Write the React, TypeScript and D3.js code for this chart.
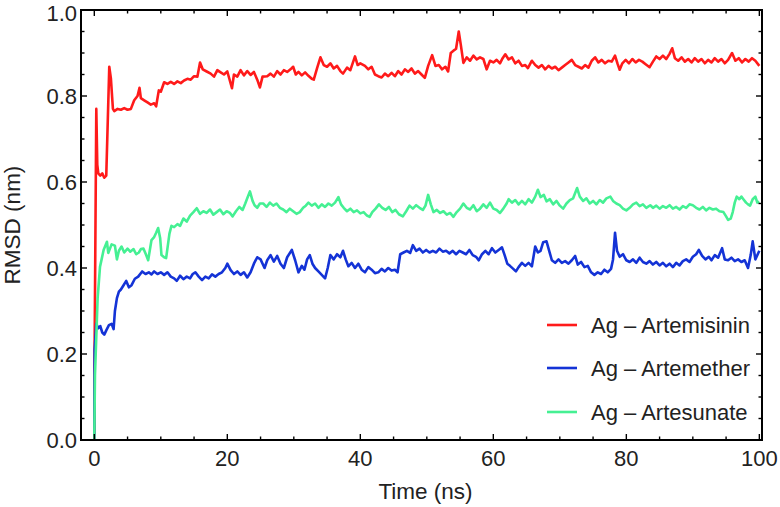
import React from "react";
import * as d3 from "d3";

const seriesNames = ["Ag \u2013 Artemisinin", "Ag \u2013 Artemether", "Ag \u2013 Artesunate"];
const seriesColors = ["#ff1a1a", "#1433d6", "#45f093"];

const xTicks = [0, 20, 40, 60, 80, 100];
const yTicks = [0.0, 0.2, 0.4, 0.6, 0.8, 1.0];

const artemisinin: [number, number][] = [
  [0,0],[0.05,0.22],[0.3,0.77],[0.45,0.64],[0.6,0.62],[0.9,0.615],[1.2,0.62],[1.5,0.61],[1.8,0.615],[2.25,0.868],[2.5,0.84],[2.8,0.77],[3.0,0.765],
  [3.5,0.77],[4.0,0.768],[4.5,0.772],[5.0,0.768],[5.5,0.77],[6.0,0.79],[6.5,0.8],[6.8,0.819],[7.0,0.795],[7.5,0.79],[8.0,0.785],[8.5,0.78],[9.0,0.783],[9.3,0.776],[9.7,0.813],[10.0,0.81],[10.5,0.832],[11.0,0.828],[11.5,0.833],[12.0,0.828],[12.5,0.834],[13.0,0.83],[13.5,0.836],[14.0,0.84],[14.5,0.838],[15.0,0.846],[15.5,0.845],[15.9,0.878],[16.3,0.862],[16.9,0.857],[17.5,0.852],[18.0,0.845],[18.5,0.86],[19.0,0.855],[19.5,0.85],[20.0,0.857],[20.7,0.818],[21.0,0.85],[21.5,0.845],[22.0,0.86],[22.5,0.848],[23.0,0.858],[23.5,0.849],[24.0,0.856],[24.5,0.838],[24.9,0.82],[25.3,0.845],[26.0,0.846],[26.5,0.852],[27.0,0.845],[27.5,0.858],[28.0,0.85],[28.5,0.86],[29.0,0.856],[29.5,0.862],[29.9,0.868],[30.3,0.85],[30.7,0.856],[31.2,0.848],[31.7,0.855],[32.2,0.847],[32.7,0.84],[33.0,0.838],[33.5,0.865],[34.0,0.89],[34.5,0.872],[35.0,0.868],[35.5,0.876],[36.0,0.864],[36.5,0.87],[37.0,0.858],[37.4,0.852],[38.0,0.866],[38.5,0.86],[39.2,0.892],[39.6,0.872],[40.0,0.876],[40.7,0.87],[41.2,0.862],[41.7,0.868],[42.2,0.85],[42.7,0.846],[43.2,0.843],[43.7,0.852],[44.2,0.846],[44.7,0.854],[45.2,0.846],[45.7,0.858],[46.2,0.85],[46.7,0.862],[47.2,0.856],[47.7,0.864],[48.2,0.852],[48.7,0.858],[49.2,0.85],[49.7,0.842],[50.2,0.87],[50.8,0.895],[51.3,0.87],[51.8,0.872],[52.3,0.862],[52.8,0.868],[53.2,0.857],[53.6,0.9],[54.0,0.905],[54.4,0.91],[54.8,0.95],[55.1,0.92],[55.5,0.877],[56.0,0.89],[56.5,0.882],[57.0,0.894],[57.5,0.885],[58.0,0.89],[58.5,0.886],[59.0,0.862],[59.5,0.882],[60.0,0.878],[60.5,0.884],[61.0,0.876],[61.4,0.888],[61.8,0.897],[62.3,0.885],[62.8,0.89],[63.3,0.876],[63.8,0.882],[64.3,0.87],[64.8,0.872],[65.2,0.865],[65.8,0.882],[66.3,0.872],[66.8,0.866],[67.3,0.872],[67.8,0.862],[68.3,0.87],[68.8,0.864],[69.3,0.868],[69.8,0.86],[70.3,0.866],[70.8,0.872],[71.3,0.878],[71.8,0.884],[72.3,0.872],[72.8,0.868],[73.3,0.864],[73.8,0.872],[74.3,0.866],[74.8,0.882],[75.3,0.89],[75.8,0.878],[76.3,0.884],[76.8,0.876],[77.3,0.882],[77.8,0.88],[78.3,0.894],[78.7,0.874],[79.0,0.861],[79.4,0.876],[79.9,0.884],[80.4,0.876],[80.9,0.886],[81.4,0.878],[81.9,0.884],[82.4,0.88],[82.9,0.874],[83.5,0.867],[84.0,0.88],[84.5,0.892],[85.0,0.886],[85.5,0.894],[86.0,0.886],[86.5,0.898],[86.9,0.911],[87.3,0.888],[87.8,0.882],[88.3,0.89],[88.8,0.88],[89.3,0.886],[89.8,0.878],[90.3,0.888],[90.8,0.88],[91.3,0.886],[91.8,0.876],[92.3,0.884],[92.8,0.878],[93.3,0.888],[93.8,0.88],[94.3,0.886],[94.8,0.876],[95.3,0.884],[95.9,0.9],[96.4,0.882],[96.9,0.888],[97.4,0.878],[97.9,0.886],[98.4,0.88],[98.9,0.888],[99.4,0.882],[100,0.87]
];

const artemether: [number, number][] = [
  [0,0],[0.05,0.21],[0.3,0.27],[0.6,0.26],[0.9,0.265],[1.2,0.25],[1.5,0.245],[1.8,0.255],[2.2,0.267],[2.6,0.27],[2.9,0.258],[3.1,0.3],[3.4,0.33],[3.7,0.345],[4.0,0.35],[4.4,0.36],[4.8,0.37],[5.2,0.355],[5.6,0.36],[6.1,0.375],[6.6,0.38],[7.2,0.392],[7.7,0.386],[8.2,0.39],[8.6,0.385],[9.0,0.392],[9.5,0.386],[10.0,0.39],[10.5,0.384],[11.0,0.39],[11.5,0.38],[12.0,0.376],[12.4,0.37],[12.9,0.382],[13.4,0.374],[13.9,0.38],[14.4,0.376],[14.8,0.386],[15.2,0.39],[15.7,0.38],[16.2,0.372],[16.7,0.38],[17.2,0.376],[17.7,0.385],[18.2,0.38],[18.7,0.386],[19.2,0.39],[19.7,0.4],[20.0,0.41],[20.5,0.395],[21.0,0.386],[21.5,0.392],[22.0,0.384],[22.5,0.39],[23.0,0.378],[23.5,0.39],[24.0,0.41],[24.5,0.425],[25.0,0.42],[25.6,0.4],[26.0,0.418],[26.5,0.43],[27.0,0.415],[27.5,0.428],[28.0,0.41],[28.5,0.4],[29.0,0.425],[29.7,0.442],[30.2,0.418],[30.7,0.39],[31.2,0.405],[31.6,0.396],[32.0,0.42],[32.4,0.43],[32.8,0.41],[33.2,0.4],[33.7,0.392],[34.2,0.384],[34.7,0.376],[35.1,0.4],[35.5,0.43],[36.0,0.42],[36.5,0.432],[37.0,0.425],[37.4,0.44],[37.8,0.42],[38.2,0.404],[38.7,0.412],[39.2,0.4],[39.7,0.41],[40.2,0.396],[40.7,0.39],[41.2,0.402],[41.7,0.396],[42.2,0.388],[42.7,0.39],[43.2,0.398],[43.7,0.392],[44.2,0.4],[44.7,0.394],[45.2,0.396],[45.6,0.39],[46.0,0.432],[46.5,0.436],[47.0,0.44],[47.5,0.435],[47.9,0.453],[48.4,0.44],[48.9,0.445],[49.4,0.436],[49.9,0.442],[50.4,0.436],[50.9,0.44],[51.4,0.436],[51.9,0.445],[52.4,0.438],[52.9,0.44],[53.4,0.434],[53.9,0.44],[54.4,0.432],[54.9,0.44],[55.4,0.436],[55.9,0.432],[56.4,0.442],[56.9,0.43],[57.4,0.426],[57.8,0.418],[58.3,0.432],[58.8,0.44],[59.3,0.432],[59.8,0.446],[60.3,0.436],[60.8,0.442],[61.3,0.448],[61.7,0.43],[62.1,0.41],[62.5,0.405],[63.0,0.398],[63.4,0.392],[63.8,0.402],[64.3,0.412],[64.8,0.405],[65.3,0.412],[65.8,0.404],[66.3,0.45],[66.7,0.436],[67.1,0.44],[67.5,0.46],[68.0,0.462],[68.4,0.44],[68.8,0.418],[69.3,0.412],[69.8,0.42],[70.3,0.412],[70.8,0.416],[71.3,0.41],[71.8,0.418],[72.3,0.428],[72.7,0.408],[73.2,0.414],[73.7,0.402],[74.2,0.405],[74.7,0.39],[75.2,0.384],[75.7,0.39],[76.2,0.386],[76.7,0.396],[77.2,0.39],[77.7,0.398],[78.0,0.42],[78.3,0.482],[78.6,0.44],[79.0,0.426],[79.5,0.432],[80.0,0.418],[80.5,0.414],[81.0,0.42],[81.5,0.412],[82.0,0.424],[82.5,0.414],[83.0,0.41],[83.5,0.416],[84.0,0.408],[84.5,0.414],[85.0,0.406],[85.5,0.412],[86.0,0.404],[86.5,0.41],[87.0,0.402],[87.5,0.412],[88.0,0.406],[88.5,0.416],[89.0,0.42],[89.5,0.414],[90.0,0.426],[90.5,0.432],[90.9,0.442],[91.4,0.428],[91.9,0.42],[92.4,0.426],[92.8,0.418],[93.3,0.43],[93.8,0.424],[94.4,0.446],[94.8,0.42],[95.3,0.418],[95.8,0.424],[96.3,0.416],[96.8,0.42],[97.3,0.414],[97.8,0.418],[98.3,0.4],[98.7,0.43],[99.0,0.462],[99.4,0.42],[100,0.44]
];

const artesunate: [number, number][] = [
  [0,0],[0.1,0.15],[0.5,0.33],[0.86,0.403],[1.1,0.42],[1.4,0.442],[1.9,0.461],[2.1,0.435],[2.6,0.455],[3.1,0.452],[3.4,0.42],[3.7,0.44],[4.1,0.45],[4.5,0.436],[5.0,0.445],[5.4,0.438],[5.9,0.444],[6.3,0.432],[6.7,0.436],[7.0,0.444],[7.4,0.445],[7.8,0.43],[8.1,0.418],[8.6,0.465],[9.0,0.472],[9.3,0.482],[9.6,0.493],[9.9,0.47],[10.1,0.43],[10.5,0.425],[10.8,0.423],[11.3,0.48],[11.6,0.498],[12.0,0.495],[12.5,0.502],[12.9,0.498],[13.4,0.515],[13.9,0.508],[14.4,0.522],[14.9,0.53],[15.4,0.539],[15.9,0.526],[16.4,0.532],[16.9,0.528],[17.4,0.536],[17.9,0.524],[18.4,0.53],[18.9,0.536],[19.4,0.525],[19.9,0.532],[20.4,0.528],[20.8,0.52],[21.3,0.532],[21.8,0.542],[22.3,0.535],[22.7,0.55],[23.0,0.562],[23.4,0.578],[23.8,0.556],[24.1,0.546],[24.5,0.54],[24.9,0.55],[25.4,0.55],[25.9,0.542],[26.4,0.552],[26.9,0.545],[27.4,0.55],[27.9,0.54],[28.4,0.536],[28.9,0.53],[29.4,0.538],[29.9,0.532],[30.4,0.526],[30.9,0.53],[31.4,0.54],[31.8,0.545],[32.2,0.552],[32.7,0.545],[33.2,0.55],[33.7,0.54],[34.2,0.548],[34.7,0.542],[35.2,0.55],[35.7,0.545],[36.2,0.552],[36.7,0.565],[37.1,0.548],[37.5,0.54],[38.0,0.532],[38.5,0.538],[39.0,0.53],[39.5,0.534],[40.0,0.527],[40.5,0.53],[41.0,0.522],[41.4,0.519],[41.8,0.53],[42.3,0.538],[42.8,0.548],[43.3,0.54],[43.8,0.535],[44.3,0.542],[44.8,0.53],[45.3,0.535],[45.8,0.525],[46.4,0.52],[46.9,0.532],[47.4,0.545],[47.9,0.538],[48.4,0.546],[48.9,0.54],[49.4,0.535],[49.8,0.545],[50.2,0.57],[50.6,0.548],[51.0,0.53],[51.5,0.535],[52.0,0.528],[52.5,0.532],[53.0,0.524],[53.5,0.528],[54.0,0.519],[54.5,0.53],[55.0,0.538],[55.5,0.55],[56.0,0.54],[56.5,0.536],[57.0,0.546],[57.5,0.532],[58.0,0.538],[58.5,0.548],[59.0,0.54],[59.5,0.552],[60.0,0.538],[60.5,0.535],[61.0,0.528],[61.5,0.538],[62.0,0.55],[62.3,0.56],[62.8,0.552],[63.3,0.558],[63.8,0.548],[64.3,0.556],[64.8,0.548],[65.3,0.56],[65.8,0.552],[66.3,0.566],[66.7,0.582],[67.1,0.565],[67.6,0.57],[68.0,0.555],[68.5,0.56],[69.0,0.548],[69.5,0.556],[70.0,0.545],[70.5,0.538],[71.0,0.55],[71.5,0.558],[72.0,0.562],[72.6,0.586],[73.0,0.566],[73.5,0.556],[74.0,0.562],[74.5,0.55],[75.0,0.556],[75.5,0.548],[76.0,0.558],[76.5,0.552],[77.0,0.562],[77.6,0.566],[78.0,0.556],[78.5,0.55],[79.0,0.546],[79.5,0.538],[80.0,0.534],[80.5,0.54],[81.0,0.548],[81.5,0.552],[82.0,0.544],[82.5,0.548],[83.0,0.54],[83.6,0.546],[84.0,0.54],[84.5,0.545],[85.0,0.538],[85.5,0.544],[86.0,0.54],[86.5,0.546],[87.0,0.538],[87.5,0.542],[88.0,0.536],[88.5,0.544],[89.0,0.54],[89.5,0.548],[90.0,0.546],[90.5,0.54],[91.0,0.536],[91.5,0.542],[92.0,0.534],[92.5,0.54],[93.0,0.536],[93.5,0.538],[94.0,0.532],[94.6,0.53],[95.0,0.52],[95.3,0.512],[95.7,0.515],[96.0,0.53],[96.3,0.552],[96.6,0.566],[97.0,0.56],[97.3,0.566],[97.6,0.56],[98.0,0.552],[98.3,0.548],[98.6,0.545],[99.0,0.56],[99.4,0.566],[99.7,0.552],[100,0.554]
];

const seriesData = [artemisinin, artemether, artesunate];

const W = 780;
const H = 507;
const frame = { left: 81, right: 762, top: 10, bottom: 440 };
const FONT = "'Liberation Sans', Arial, sans-serif";
const TEXT = "#222";

export default function App() {
  const x = d3.scaleLinear().domain([-2, 100.4]).range([frame.left, frame.right]);
  const y = d3.scaleLinear().domain([0, 1]).range([frame.bottom, frame.top]);
  const line = d3
    .line<[number, number]>()
    .x((d) => x(d[0]))
    .y((d) => y(d[1]));

  const xMinor = d3.range(0, 101, 5);
  const yMinor = d3.range(0, 1.0001, 0.05);
  const isMajorX = (v: number) => Math.abs(v % 20) < 1e-6;
  const isMajorY = (v: number) => Math.abs(Math.round(v * 100) % 20) < 1e-6;

  const legendY = [325, 368, 412];

  return (
    <svg
      width={W}
      height={H}
      style={{ position: "absolute", left: 0, top: 0, background: "#fff" }}
      fontFamily={FONT}
    >
      <rect x={0} y={0} width={W} height={H} fill="#fff" />
      <defs>
        <clipPath id="plotclip">
          <rect x={frame.left} y={frame.top} width={frame.right - frame.left} height={frame.bottom - frame.top} />
        </clipPath>
      </defs>
      <g clipPath="url(#plotclip)">
        {seriesData.map((s, i) => (
          <path
            key={i}
            d={line(s) || ""}
            fill="none"
            stroke={seriesColors[i]}
            strokeWidth={2.6}
            strokeLinejoin="round"
          />
        ))}
      </g>

      {xMinor.map((v) => {
        const len = isMajorX(v) ? 6 : 3.5;
        const px = x(v);
        return (
          <g key={"xt" + v} stroke="#000" strokeWidth={1.4}>
            <line x1={px} x2={px} y1={frame.bottom} y2={frame.bottom - len} />
            <line x1={px} x2={px} y1={frame.top} y2={frame.top + len} />
          </g>
        );
      })}
      {yMinor.map((v) => {
        const len = isMajorY(v) ? 6 : 3.5;
        const py = y(v);
        return (
          <g key={"yt" + v} stroke="#000" strokeWidth={1.4}>
            <line x1={frame.left} x2={frame.left + len} y1={py} y2={py} />
            <line x1={frame.right} x2={frame.right - len} y1={py} y2={py} />
          </g>
        );
      })}

      <rect
        x={frame.left}
        y={frame.top}
        width={frame.right - frame.left}
        height={frame.bottom - frame.top}
        fill="none"
        stroke="#000"
        strokeWidth={2}
      />

      {xTicks.map((v) => (
        <text key={"xl" + v} x={x(v)} y={466} textAnchor="middle" fontSize={22} fill={TEXT}>
          {v}
        </text>
      ))}
      {yTicks.map((v) => (
        <text
          key={"yl" + v}
          x={77}
          y={Math.max(y(v), 13)}
          dy="0.36em"
          textAnchor="end"
          fontSize={22}
          fill={TEXT}
        >
          {v.toFixed(1)}
        </text>
      ))}

      <text x={(frame.left + frame.right) / 2 + 4} y={499} textAnchor="middle" fontSize={22.5} fill={TEXT}>
        Time (ns)
      </text>
      <text
        transform={`translate(20, ${(frame.top + frame.bottom) / 2}) rotate(-90)`}
        textAnchor="middle"
        fontSize={22.5}
        fill={TEXT}
      >
        RMSD (nm)
      </text>

      {seriesNames.map((n, i) => (
        <g key={"lg" + i}>
          <line x1={547} x2={577} y1={legendY[i]} y2={legendY[i]} stroke={seriesColors[i]} strokeWidth={2.6} />
          <text x={591} y={legendY[i]} dy="0.36em" fontSize={22} fill={TEXT}>
            {n}
          </text>
        </g>
      ))}
    </svg>
  );
}
